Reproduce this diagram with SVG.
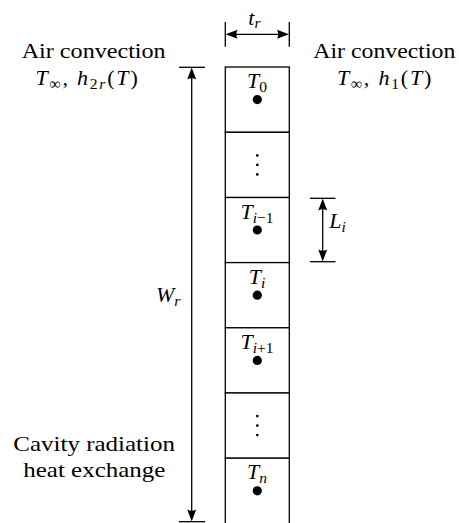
<svg xmlns="http://www.w3.org/2000/svg" width="459" height="523" viewBox="0 0 459 523">
<style>
  .ln { stroke: #000; stroke-width: 1.3; fill: none; }
  .cell { stroke: #000; stroke-width: 1.3; fill: #fff; }
  .arr { stroke: #000; stroke-width: 1.3; fill: none; marker-start: url(#ah); marker-end: url(#ah); }
  .dot { fill: #000; }
  .it { font-style: italic; }
  .sub { font-size: 15.5px; }
  .math { letter-spacing: 1.8px; }
</style>
<defs>
  <marker id="ah" viewBox="-10 -5 14 10" refX="0" refY="0" markerWidth="14" markerHeight="10" markerUnits="userSpaceOnUse" orient="auto-start-reverse">
    <path d="M3,0 L-9,-4.5 Q-6.5,0 -9,4.5 Z" fill="#000"/>
  </marker>
</defs>
<g font-family="Liberation Serif, Times New Roman, Times, serif" font-size="22" fill="#000">
<g id="cells">
  <g id="cell-0">
    <rect class="cell" x="225.3" y="67" width="64" height="65.3"/>
    <circle class="dot" cx="257.3" cy="99.6" r="4.6"/>
    <text x="257" y="88" text-anchor="middle"><tspan class="it">T</tspan><tspan class="sub" dy="4">0</tspan></text>
  </g>
  <g id="cell-dots-1">
    <rect class="cell" x="225.3" y="132.3" width="64" height="65.2"/>
    <circle class="dot" cx="257.3" cy="155.4" r="1.3"/>
    <circle class="dot" cx="257.3" cy="164.9" r="1.3"/>
    <circle class="dot" cx="257.3" cy="174.4" r="1.3"/>
  </g>
  <g id="cell-i-1">
    <rect class="cell" x="225.3" y="197.5" width="64" height="65.1"/>
    <circle class="dot" cx="257.3" cy="230" r="4.6"/>
    <text x="257" y="218.5" text-anchor="middle"><tspan class="it">T</tspan><tspan class="sub" dy="4"><tspan class="it">i</tspan>−1</tspan></text>
  </g>
  <g id="cell-i">
    <rect class="cell" x="225.3" y="262.6" width="64" height="65.2"/>
    <circle class="dot" cx="257.3" cy="295.2" r="4.6"/>
    <text x="257" y="283.6" text-anchor="middle"><tspan class="it">T</tspan><tspan class="sub it" dy="4">i</tspan></text>
  </g>
  <g id="cell-i+1">
    <rect class="cell" x="225.3" y="327.8" width="64" height="65.2"/>
    <circle class="dot" cx="257.3" cy="360.4" r="4.6"/>
    <text x="257" y="348.8" text-anchor="middle"><tspan class="it">T</tspan><tspan class="sub" dy="4"><tspan class="it">i</tspan>+1</tspan></text>
  </g>
  <g id="cell-dots-2">
    <rect class="cell" x="225.3" y="393" width="64" height="65.2"/>
    <circle class="dot" cx="257.3" cy="416.1" r="1.3"/>
    <circle class="dot" cx="257.3" cy="425.6" r="1.3"/>
    <circle class="dot" cx="257.3" cy="435.1" r="1.3"/>
  </g>
  <g id="cell-n">
    <rect class="cell" x="225.3" y="458.2" width="64" height="80"/>
    <circle class="dot" cx="257.3" cy="490.8" r="4.6"/>
    <text x="257" y="479.2" text-anchor="middle"><tspan class="it">T</tspan><tspan class="sub it" dy="4">n</tspan></text>
  </g>
</g>

<g id="connectors">
  <line class="ln" x1="225.3" y1="22" x2="225.3" y2="46.7"/>
  <line class="ln" x1="289.3" y1="22" x2="289.3" y2="46.7"/>
  <line class="arr" x1="228.6" y1="34.3" x2="286" y2="34.3"/>
  <line class="ln" x1="179" y1="67.3" x2="205" y2="67.3"/>
  <line class="ln" x1="179" y1="521.7" x2="205" y2="521.7"/>
  <line class="arr" x1="191.7" y1="70.6" x2="191.7" y2="518.4"/>
  <line class="ln" x1="310" y1="198.3" x2="335.5" y2="198.3"/>
  <line class="ln" x1="310" y1="261.7" x2="335.5" y2="261.7"/>
  <line class="arr" x1="322.7" y1="201.6" x2="322.7" y2="258.4"/>
</g>

<g id="labels">
  <text x="248.3" y="24.5"><tspan class="it">t</tspan><tspan class="sub it" dy="3.5">r</tspan></text>
  <text x="156" y="302"><tspan class="it">W</tspan><tspan class="sub it" dy="4">r</tspan></text>
  <text x="329.3" y="228.3"><tspan class="it">L</tspan><tspan class="sub it" dy="4">i</tspan></text>

  <g id="left-top">
    <text x="21.7" y="57.7" textLength="144" lengthAdjust="spacingAndGlyphs">Air convection</text>
    <text class="math" x="87.5" y="85" text-anchor="middle"><tspan class="it">T</tspan><tspan class="sub" dy="4">∞</tspan><tspan dy="-4">, </tspan><tspan class="it">h</tspan><tspan class="sub" dy="4">2<tspan class="it">r</tspan></tspan><tspan dy="-4">(<tspan class="it">T</tspan>)</tspan></text>
  </g>
  <g id="right-top">
    <text x="313.3" y="57.7" textLength="142" lengthAdjust="spacingAndGlyphs">Air convection</text>
    <text class="math" x="385" y="85" text-anchor="middle"><tspan class="it">T</tspan><tspan class="sub" dy="4">∞</tspan><tspan dy="-4">, </tspan><tspan class="it">h</tspan><tspan class="sub" dy="4">1</tspan><tspan dy="-4">(<tspan class="it">T</tspan>)</tspan></text>
  </g>
  <g id="left-bottom">
    <text x="13.3" y="451" textLength="161.7" lengthAdjust="spacingAndGlyphs">Cavity radiation</text>
    <text x="23.3" y="476.7" textLength="142" lengthAdjust="spacingAndGlyphs">heat exchange</text>
  </g>
</g>
</g>
</svg>
